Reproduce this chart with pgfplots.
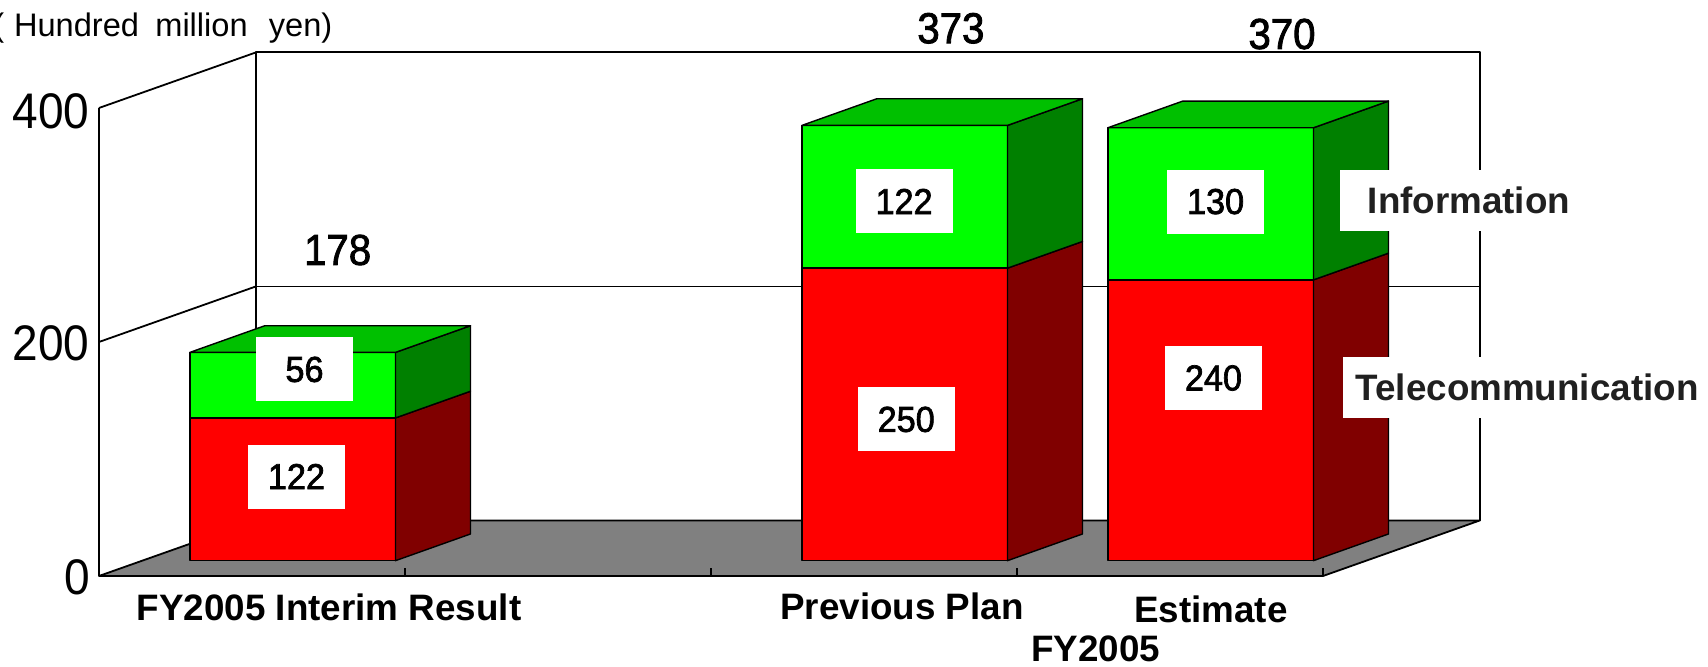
\documentclass[border=0pt]{standalone}
\usepackage{pgfplots}
\pgfplotsset{compat=1.18}
\usepackage{graphicx}
\usepackage{fontspec}
\setmainfont{Liberation Sans}
\font\valf="Liberation Sans:embolden=2.0" at 18pt
\font\totf="Liberation Sans:embolden=2.0" at 21.6pt
\definecolor{rfront}{HTML}{FF0000}
\definecolor{rside}{HTML}{800000}
\definecolor{gfront}{HTML}{00FF00}
\definecolor{gside}{HTML}{008000}
\definecolor{gtop}{HTML}{00C000}
\definecolor{floorc}{HTML}{808080}
\definecolor{lab}{HTML}{202020}
\newcommand{\fs}[1]{\fontsize{#1}{#1}\selectfont}
\tikzset{
  face/.style={draw=black,line width=0.7pt,line join=round},
  wall/.style={draw=black,line width=0.9pt,line join=round},
  vlab/.style={fill=white,inner sep=0pt,minimum width=48.5pt,minimum height=32pt,font=\valf},
  cat/.style={inner sep=0pt,font=\fs{18.4pt}\bfseries},
}
\begin{document}
\begin{tikzpicture}
\begin{axis}[width=854pt,height=333.5pt,scale only axis,
  xmin=-0.3235,xmax=5.2582,ymin=-77.78,ymax=492.3,
  hide axis, clip=false]
% back wall
\addplot[wall,fill=white] coordinates {(0.513,47.5)(4.513,47.5)(4.513,447.5)(0.513,447.5)} -- cycle;
\addplot[wall] coordinates {(0.513,247.5)(4.513,247.5)};
% left wall
\addplot[wall] coordinates {(0,200)(0.513,247.5)};
\addplot[wall] coordinates {(0,400)(0.513,447.5)};
\addplot[wall] coordinates {(0,0)(0,400)};
% floor
\addplot[wall,fill=floorc] coordinates {(0,0)(4,0)(4.513,47.5)(0.513,47.5)} -- cycle;
\addplot[black,line width=1.3pt] coordinates {(0,0)(4,0)};
\addplot[ycomb,black,line width=0.8pt] coordinates {(1,6.8)(2,6.8)(3,6.8)(4,6.8)};
% bar 1: 122 + 56
\addplot[face,fill=rfront] coordinates {(0.297,13.1)(0.969,13.1)(0.969,135.1)(0.297,135.1)} -- cycle;
\addplot[face,fill=rside] coordinates {(0.969,13.1)(1.214,35.9)(1.214,157.9)(0.969,135.1)} -- cycle;
\addplot[face,fill=gfront] coordinates {(0.297,135.1)(0.969,135.1)(0.969,191.1)(0.297,191.1)} -- cycle;
\addplot[face,fill=gside] coordinates {(0.969,135.1)(1.214,157.9)(1.214,213.9)(0.969,191.1)} -- cycle;
\addplot[face,fill=gtop] coordinates {(0.297,191.1)(0.969,191.1)(1.214,213.9)(0.542,213.9)} -- cycle;
% bar 2: 250 + 122
\addplot[face,fill=rfront] coordinates {(2.297,13.1)(2.969,13.1)(2.969,263.1)(2.297,263.1)} -- cycle;
\addplot[face,fill=rside] coordinates {(2.969,13.1)(3.214,35.9)(3.214,285.9)(2.969,263.1)} -- cycle;
\addplot[face,fill=gfront] coordinates {(2.297,263.1)(2.969,263.1)(2.969,385.1)(2.297,385.1)} -- cycle;
\addplot[face,fill=gside] coordinates {(2.969,263.1)(3.214,285.9)(3.214,407.9)(2.969,385.1)} -- cycle;
\addplot[face,fill=gtop] coordinates {(2.297,385.1)(2.969,385.1)(3.214,407.9)(2.542,407.9)} -- cycle;
% bar 3: 240 + 130
\addplot[face,fill=rfront] coordinates {(3.297,13.1)(3.969,13.1)(3.969,253.1)(3.297,253.1)} -- cycle;
\addplot[face,fill=rside] coordinates {(3.969,13.1)(4.214,35.9)(4.214,275.9)(3.969,253.1)} -- cycle;
\addplot[face,fill=gfront] coordinates {(3.297,253.1)(3.969,253.1)(3.969,383.1)(3.297,383.1)} -- cycle;
\addplot[face,fill=gside] coordinates {(3.969,253.1)(4.214,275.9)(4.214,405.9)(3.969,383.1)} -- cycle;
\addplot[face,fill=gtop] coordinates {(3.297,383.1)(3.969,383.1)(4.214,405.9)(3.542,405.9)} -- cycle;
% y tick labels
\node[anchor=east,inner sep=0pt,font=\fs{25pt}] at (-0.0294,397) {\scalebox{0.92}[1]{400}};
\node[anchor=east,inner sep=0pt,font=\fs{25pt}] at (-0.0294,199) {\scalebox{0.92}[1]{200}};
\node[anchor=east,inner sep=0pt,font=\fs{25pt}] at (-0.0294,-1) {\scalebox{0.92}[1]{0}};
% unit
\node[anchor=base west,inner sep=0pt,font=\fs{16.3pt}] at (-0.3464,460.9) {(\hspace{0.3em}Hundred\hspace{0.5em}million\hspace{0.65em}yen)};
% totals
\node[inner sep=0pt,font=\totf] at (0.780,278.6) {\scalebox{0.93}[1]{178}};
\node[inner sep=0pt,font=\totf] at (2.784,468.1) {\scalebox{0.93}[1]{373}};
\node[inner sep=0pt,font=\totf] at (3.866,463.2) {\scalebox{0.93}[1]{370}};
% value labels
\node[vlab] at (0.6716,176.5) {\raisebox{-2pt}{\scalebox{0.95}[1]{56}}};
\node[vlab] at (0.6454,85.0) {\raisebox{-2pt}{\scalebox{0.95}[1]{122}}};
\node[vlab] at (2.631,320.1) {\raisebox{-2pt}{\scalebox{0.95}[1]{122}}};
\node[vlab] at (2.638,133.8) {\raisebox{-2pt}{\scalebox{0.95}[1]{250}}};
\node[vlab] at (3.649,320.0) {\raisebox{-2pt}{\scalebox{0.95}[1]{130}}};
\node[vlab] at (3.642,169.2) {\raisebox{-2pt}{\scalebox{0.95}[1]{240}}};
% series labels
\node[fill=white,inner sep=0pt,minimum width=129pt,minimum height=30.5pt,font=\fs{18.4pt}\bfseries,text=lab] at (4.477,320.9) {Information};
\node[fill=white,inner sep=0pt,minimum width=184pt,minimum height=30.5pt,font=\fs{18.4pt}\bfseries,text=lab] at (4.667,161.4) {Telecommunication};
% category labels
\node[cat] at (0.752,-26.9) {FY2005 Interim Result};
\node[cat] at (2.624,-25.6) {Previous Plan};
\node[cat] at (3.634,-28.3) {Estimate};
\node[cat] at (3.258,-62.2) {FY2005};
\end{axis}
\pgfresetboundingbox
\path[use as bounding box] (current axis.south west) rectangle (current axis.north east);
\end{tikzpicture}
\end{document}
